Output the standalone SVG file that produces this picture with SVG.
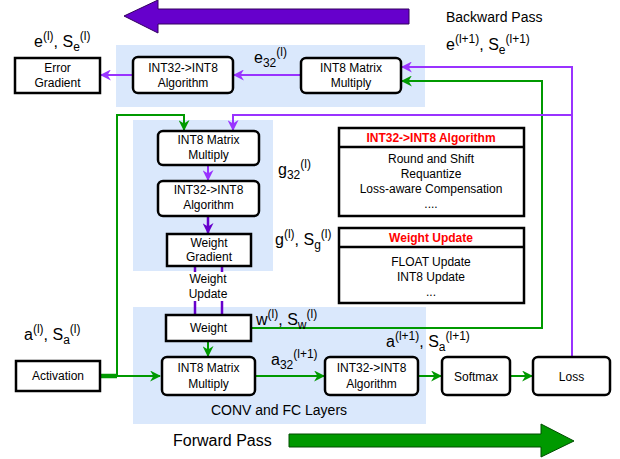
<svg xmlns="http://www.w3.org/2000/svg" width="620" height="459" viewBox="0 0 620 459">
  <style>
    text { font-family: "Liberation Sans", Arial, sans-serif; fill: #000; }
    .box { font-size: 12px; text-anchor: middle; }
    .lbl { font-size: 16px; }
    .sm { font-size: 12px; }
    .panel { fill: #dae8fc; stroke: none; }
    .rbox { fill: #fff; stroke: #000; stroke-width: 2.5; }
    .sbox { fill: #fff; stroke: #000; stroke-width: 2.5; }
    .g { fill: none; stroke: #009900; stroke-width: 2; }
    .lp { fill: none; stroke: #9933ff; stroke-width: 2; }
    .dp { fill: none; stroke: #6600cc; stroke-width: 2.5; }
    .hdr { font-size: 12px; font-weight: bold; fill: #ff0000; text-anchor: middle; }
  </style>
  <defs>
    <marker id="ag" viewBox="0 0 10 10" refX="9" refY="5" markerWidth="11" markerHeight="11" markerUnits="userSpaceOnUse" orient="auto">
      <path d="M0,0 L10,5 L0,10 L3,5 Z" fill="#009900"/>
    </marker>
    <marker id="alp" viewBox="0 0 10 10" refX="9" refY="5" markerWidth="11" markerHeight="11" markerUnits="userSpaceOnUse" orient="auto">
      <path d="M0,0 L10,5 L0,10 L3,5 Z" fill="#9933ff"/>
    </marker>
    <marker id="adp" viewBox="0 0 10 10" refX="9" refY="5" markerWidth="11" markerHeight="11" markerUnits="userSpaceOnUse" orient="auto">
      <path d="M0,0 L10,5 L0,10 L3,5 Z" fill="#6600cc"/>
    </marker>
  </defs>

  <!-- pass direction arrows -->
  <polygon points="124,16 158,0 158,9 409,9 409,24 158,24 158,33" fill="#6600cc" stroke="#33005f" stroke-width="1"/>
  <text x="446" y="22" style="font-size:14px">Backward Pass</text>
  <polygon points="289,434 541,434 541,424 574,441 541,457 541,447 289,447" fill="#009900" stroke="#004d00" stroke-width="1"/>
  <text x="173" y="446" style="font-size:16px">Forward Pass</text>

  <!-- layer panels -->
  <rect class="panel" x="116" y="45" width="309" height="62"/>
  <rect class="panel" x="133" y="120" width="140" height="151"/>
  <rect class="panel" x="133" y="307" width="293" height="117"/>
  <text x="279" y="415" style="font-size:14px" text-anchor="middle">CONV and FC Layers</text>

  <!-- connectors -->
  <g id="connectors">
    <path class="g" d="M100,376 H160" marker-end="url(#ag)"/>
    <path d="M100,376 H117" stroke="#009900" stroke-width="4.5" fill="none"/>
    <path class="g" d="M117,376 V115 H184 V130" marker-end="url(#ag)"/>
    <path class="g" d="M208,341 V356" marker-end="url(#ag)"/>
    <path class="g" d="M255,376 H324" marker-end="url(#ag)"/>
    <path class="g" d="M418,376 H441" marker-end="url(#ag)"/>
    <path class="g" d="M510,376 H532" marker-end="url(#ag)"/>
    <path class="g" d="M251,328 H542 V81 H402" marker-end="url(#ag)"/>
    <path class="lp" d="M572,357 V67 H402" marker-end="url(#alp)"/>
    <path class="lp" d="M572,115 H233 V130" marker-end="url(#alp)"/>
    <path class="lp" d="M300,75 H234" marker-end="url(#alp)"/>
    <path class="lp" d="M132,75 H101" marker-end="url(#alp)"/>
    <path class="lp" d="M208,165 V180" marker-end="url(#alp)"/>
    <path class="dp" d="M208,216 V233" marker-end="url(#adp)"/>
    <path class="dp" d="M195,266 V315"/>
    <path class="dp" d="M222,266 V315"/>
  </g>

  <!-- backward path, error -->
  <g id="error-gradient">
    <rect class="sbox" x="15" y="58" width="85" height="35"/>
    <text class="box" x="57.5" y="72">Error</text>
    <text class="box" x="57.5" y="87">Gradient</text>
  </g>
  <g id="err-requant">
    <rect class="rbox" x="133" y="57" width="100" height="36" rx="5"/>
    <text class="box" x="183" y="72">INT32-&gt;INT8</text>
    <text class="box" x="183" y="87">Algorithm</text>
  </g>
  <g id="err-matmul">
    <rect class="rbox" x="301" y="58" width="100" height="35" rx="5"/>
    <text class="box" x="351" y="72">INT8 Matrix</text>
    <text class="box" x="351" y="87">Multiply</text>
  </g>

  <!-- backward path, weight gradient -->
  <g id="grad-matmul">
    <rect class="rbox" x="158" y="131" width="101" height="34" rx="5"/>
    <text class="box" x="208.5" y="144">INT8 Matrix</text>
    <text class="box" x="208.5" y="159">Multiply</text>
  </g>
  <g id="grad-requant">
    <rect class="rbox" x="158" y="181" width="101" height="35" rx="5"/>
    <text class="box" x="208.5" y="194">INT32-&gt;INT8</text>
    <text class="box" x="208.5" y="209">Algorithm</text>
  </g>
  <g id="weight-gradient">
    <rect class="sbox" x="167" y="234" width="84" height="32"/>
    <text class="box" x="209" y="247">Weight</text>
    <text class="box" x="209" y="261">Gradient</text>
  </g>
  <!-- edge label with its own white backing over the update lines -->
  <g id="weight-update-label">
    <rect x="186" y="272" width="45" height="29" fill="#fff"/>
    <text class="box" x="208" y="283">Weight</text>
    <text class="box" x="208" y="298">Update</text>
  </g>

  <!-- forward path -->
  <g id="weight">
    <rect class="sbox" x="166" y="315" width="85" height="26"/>
    <text class="box" x="208.5" y="332">Weight</text>
  </g>
  <g id="activation">
    <rect class="sbox" x="16" y="361" width="84" height="30"/>
    <text class="box" x="58" y="380">Activation</text>
  </g>
  <g id="fwd-matmul">
    <rect class="rbox" x="162" y="357" width="93" height="38" rx="5"/>
    <text class="box" x="208.5" y="372">INT8 Matrix</text>
    <text class="box" x="208.5" y="388">Multiply</text>
  </g>
  <g id="fwd-requant">
    <rect class="rbox" x="325" y="357" width="93" height="38" rx="5"/>
    <text class="box" x="371.5" y="372">INT32-&gt;INT8</text>
    <text class="box" x="371.5" y="388">Algorithm</text>
  </g>
  <g id="softmax">
    <rect class="rbox" x="442" y="357" width="68" height="38" rx="5"/>
    <text class="box" x="476" y="381">Softmax</text>
  </g>
  <g id="loss">
    <rect class="rbox" x="533" y="357" width="77" height="38" rx="5"/>
    <text class="box" x="571.5" y="381">Loss</text>
  </g>

  <!-- legend boxes -->
  <g id="legend-requant">
    <rect class="sbox" x="339" y="128" width="185" height="88"/>
    <line x1="339" y1="147" x2="524" y2="147" stroke="#000" stroke-width="2.5"/>
    <text class="hdr" x="431" y="142">INT32-&gt;INT8 Algorithm</text>
    <text class="box" x="431" y="163">Round and Shift</text>
    <text class="box" x="431" y="178">Requantize</text>
    <text class="box" x="431" y="193">Loss-aware Compensation</text>
    <text class="box" x="431" y="208">....</text>
  </g>
  <g id="legend-update">
    <rect class="sbox" x="339" y="228" width="185" height="75"/>
    <line x1="339" y1="247" x2="524" y2="247" stroke="#000" stroke-width="2.5"/>
    <text class="hdr" x="431" y="242">Weight Update</text>
    <text class="box" x="431" y="266">FLOAT Update</text>
    <text class="box" x="431" y="281">INT8 Update</text>
    <text class="box" x="431" y="296">...</text>
  </g>

  <!-- tensor / scale labels -->
  <text class="lbl" x="34" y="47">e<tspan class="sm" dy="-7">(l)</tspan><tspan dy="7">, S</tspan><tspan class="sm" dy="4">e</tspan><tspan class="sm" dy="-11">(l)</tspan></text>
  <text class="lbl" x="446" y="50">e<tspan class="sm" dy="-7">(l+1)</tspan><tspan dy="7">, S</tspan><tspan class="sm" dy="4">e</tspan><tspan class="sm" dy="-11">(l+1)</tspan></text>
  <text class="lbl" x="254" y="63">e<tspan class="sm" dy="4">32</tspan><tspan class="sm" dy="-11">(l)</tspan></text>
  <text class="lbl" x="278" y="175">g<tspan class="sm" dy="4">32</tspan><tspan class="sm" dy="-11">(l)</tspan></text>
  <text class="lbl" x="275" y="245">g<tspan class="sm" dy="-7">(l)</tspan><tspan dy="7">, S</tspan><tspan class="sm" dy="4">g</tspan><tspan class="sm" dy="-11">(l)</tspan></text>
  <text class="lbl" x="256" y="325">w<tspan class="sm" dy="-7">(l)</tspan><tspan dy="7">, S</tspan><tspan class="sm" dy="4">w</tspan><tspan class="sm" dy="-11">(l)</tspan></text>
  <text class="lbl" x="24" y="340">a<tspan class="sm" dy="-7">(l)</tspan><tspan dy="7">, S</tspan><tspan class="sm" dy="4">a</tspan><tspan class="sm" dy="-11">(l)</tspan></text>
  <text class="lbl" x="271" y="365">a<tspan class="sm" dy="4">32</tspan><tspan class="sm" dy="-11">(l+1)</tspan></text>
  <text class="lbl" x="386" y="347">a<tspan class="sm" dy="-7">(l+1)</tspan><tspan dy="7">, S</tspan><tspan class="sm" dy="4">a</tspan><tspan class="sm" dy="-11">(l+1)</tspan></text>
</svg>
